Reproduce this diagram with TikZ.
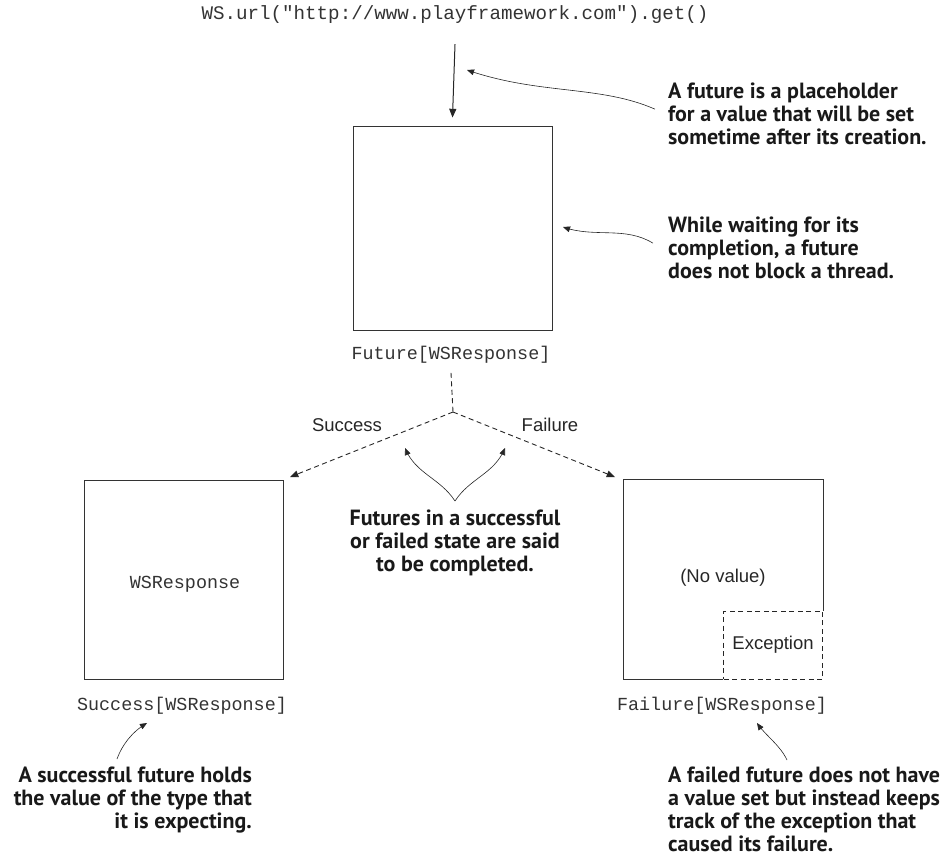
\documentclass[tikz,border=0pt]{standalone}
\usepackage{fontspec}
\setmainfont{PT Sans}
\setsansfont{Liberation Sans}
\setmonofont{Liberation Mono}
\usetikzlibrary{arrows}
\usetikzlibrary{positioning}

\tikzset{
  futbox/.style={draw=black!80,line width=1pt,minimum width=199pt,minimum height=199pt,inner sep=0pt},
  plain/.style={font=\fontsize{18.5}{20}\selectfont\sffamily,text=black!85,inner sep=0pt},
  excbox/.style={plain,draw=black!85,line width=0.9pt,dash pattern=on 5pt off 3.5pt,minimum width=99pt,minimum height=68pt},
  code/.style={font=\fontsize{18.4}{20}\selectfont\ttfamily,text=black!80,inner sep=0pt},
  note/.style={font=\fontsize{22}{23}\selectfont\bfseries,text=black!90,inner sep=0pt},
  mainarrow/.style={->,>=triangle 45,line width=1pt,draw=black!85},
  branch/.style={->,>=triangle 45,line width=0.9pt,dash pattern=on 5pt off 3.5pt,draw=black!85},
  pointer/.style={->,>=triangle 45,line width=0.6pt,draw=black!85},
}

\begin{document}
\begin{tikzpicture}[x=1pt,y=-1pt,line cap=butt,line join=miter]
\useasboundingbox (0,0) rectangle (946,863);

% top call and the future
\node[code,font=\fontsize{19.2}{20}\selectfont\ttfamily] (url) at (455,15) {WS.url("http://www.playframework.com").get()};
\node[futbox,minimum height=204pt] (fut) at (452.5,228) {};
\node[code] (futlbl) at (451,355) {Future[WSResponse]};
\draw[mainarrow] ([yshift=-20pt]url.south) -- ([yshift=8pt]fut.north);

% notes on the right
\node[note,align=left,anchor=north west] (placeholder) at (668,83) {A future is a placeholder\\for a value that will be set\\sometime after its creation.};
\node[note,align=left,anchor=north west] (noblock) at (668,217) {While waiting for its\\completion, a future\\does not block a thread.};
\coordinate (phtip) at (467,70);
\coordinate (nbtip) at (563,227);
\draw[pointer] ([shift={(-13pt,5pt)}]placeholder.west) .. controls (600,85) and (540,95) .. (phtip);
\draw[pointer] ([shift={(-15pt,5pt)}]noblock.west) .. controls (625,226) and (595,238) .. (nbtip);

% the two outcomes
\coordinate (split) at (453,412);
\coordinate (stip) at (290,477);
\coordinate (ftip) at (615,477);
\draw[line width=0.9pt,dash pattern=on 5pt off 3.5pt,draw=black!85] ([yshift=-9pt]futlbl.south) -- (split);
\draw[branch] (split) -- (stip);
\draw[branch] (split) -- (ftip);
\node[plain] (succtxt) at (347,425) {Success};
\node[plain] (failtxt) at (550,425) {Failure};

\node[note,align=center,anchor=north] (done) at (455,510) {Futures in a successful\\or failed state are said\\to be completed.};
\coordinate (vtip) at ([yshift=9pt]done.north);
\draw[pointer] (vtip) .. controls (440,478) and (416,474) .. (405,448);
\draw[pointer] (vtip) .. controls (470,478) and (494,474) .. (505,448);

% success box
\node[futbox] (succ) at (184,579.5) {};
\node[code] (wsr) at (185,584) {WSResponse};
\node[code] (succlbl) at (182,706) {Success[WSResponse]};

% failure box
\node[futbox,draw=none] (fail) at (723,579.5) {};
\node[plain] (noval) at (723,578) {(No value)};
\node[excbox,anchor=south east] (exc) at (fail.south east) {Exception};
\draw[draw=black!80,line width=1pt] (exc.south west) -- (fail.south west) -- (fail.north west) -- (fail.north east) -- (exc.north east);
\node[code] (faillbl) at (722,706) {Failure[WSResponse]};

% notes at the bottom
\node[note,align=right,anchor=north east] (holds) at (252,767) {A successful future holds\\the value of the type that\\it is expecting.};
\node[note,align=left,anchor=north west] (keeps) at (668,767) {A failed future does not have\\a value set but instead keeps\\track of the exception that\\caused its failure.};
\coordinate (htip) at (147,723);
\coordinate (ktip) at (757,723);
\draw[pointer] (117,759) .. controls (122,745) and (132,732) .. (htip);
\draw[pointer] (787,760) .. controls (780,745) and (766,736) .. (ktip);
\end{tikzpicture}
\end{document}
